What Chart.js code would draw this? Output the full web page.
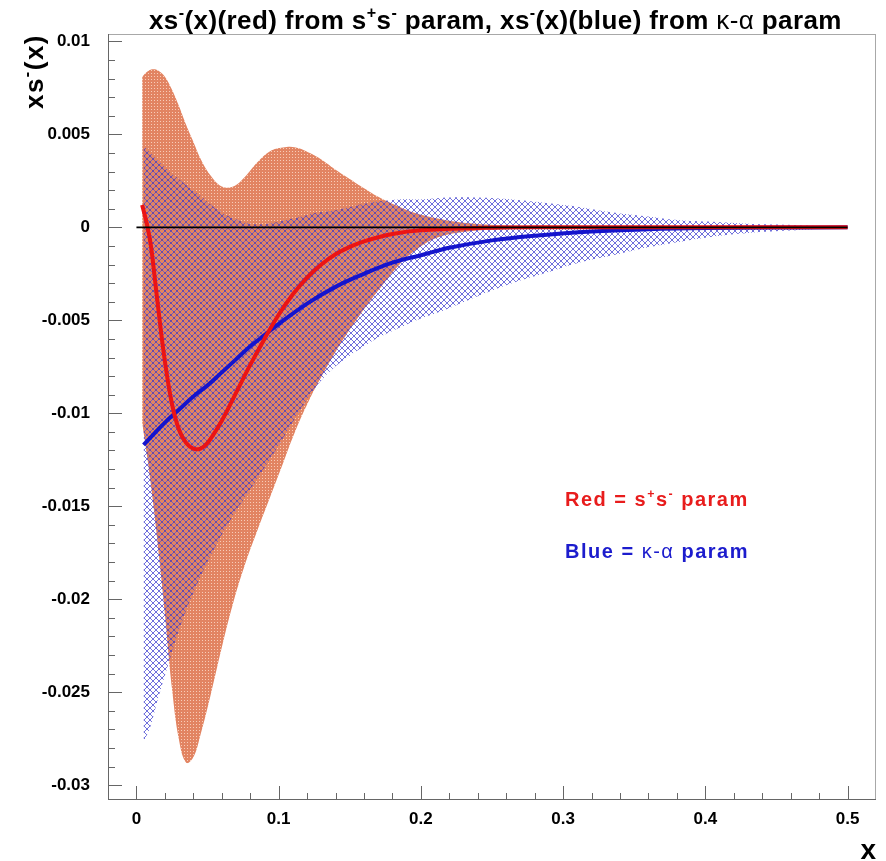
<!DOCTYPE html>
<html>
<head>
<meta charset="utf-8">
<script src="https://cdn.jsdelivr.net/npm/chart.js@4.4.1/dist/chart.umd.min.js"></script>
<style>
  html, body { margin: 0; padding: 0; background: #fff; }
  #chart { display: block; }
</style>
</head>
<body>
<canvas id="chart" width="886" height="861"></canvas>
<script>
// xs^-(x) from the s+s- fit (red) and from the kappa-alpha fit (blue)
const redX = [0.004, 0.007, 0.010, 0.013, 0.016, 0.020, 0.025, 0.030, 0.035, 0.040, 0.045, 0.050, 0.060,
  0.070, 0.080, 0.090, 0.100, 0.110, 0.120, 0.130, 0.140, 0.150, 0.160, 0.180, 0.200, 0.250, 0.300, 0.400, 0.500];
const redY = [0.0012, 0.0003, -0.0009, -0.0028, -0.0048, -0.0072, -0.0095, -0.0109, -0.0116, -0.0119, -0.0119, -0.0116, -0.0104,
  -0.0089, -0.0074, -0.0060, -0.0047, -0.0036, -0.0027, -0.0020, -0.00145, -0.00105, -0.00075, -0.00036, -0.00016, -0.00002, 0, 0, 0];

const redBandX = [0.004, 0.008, 0.012, 0.016, 0.020, 0.025, 0.030, 0.035, 0.040, 0.045, 0.052, 0.060, 0.068, 0.076, 0.085,
  0.094, 0.103, 0.112, 0.122, 0.131, 0.140, 0.150, 0.160, 0.171, 0.185, 0.195, 0.210, 0.230, 0.260, 0.300, 0.360, 0.420, 0.500];
const redBandHigh = [0.0081, 0.0084, 0.0085, 0.0084, 0.0081, 0.0074, 0.0065, 0.0055, 0.0046, 0.0037, 0.0028, 0.0022, 0.0022, 0.0027, 0.0035,
  0.0041, 0.0043, 0.0043, 0.0040, 0.0036, 0.0031, 0.0026, 0.0021, 0.0016, 0.0011, 0.0008, 0.0005, 0.00025, 0.0001, 0.00005, 0.00002, 0.00001, 0];
const redBandLow = [-0.0105, -0.0126, -0.0150, -0.0178, -0.0208, -0.0248, -0.0276, -0.0288, -0.0285, -0.0273, -0.0252, -0.0226, -0.0202, -0.0182, -0.0163,
  -0.0145, -0.0127, -0.0109, -0.0092, -0.0079, -0.0067, -0.0055, -0.0044, -0.0033, -0.0020, -0.0013, -0.0006, -0.00025, -0.0001, -0.00004, -0.00002, -0.00001, 0];

const blueX = [0.005, 0.010, 0.020, 0.030, 0.040, 0.050, 0.060, 0.070, 0.080, 0.090, 0.100, 0.120, 0.140, 0.160, 0.180,
  0.200, 0.220, 0.250, 0.280, 0.320, 0.360, 0.400, 0.450, 0.500];
const blueY = [-0.0117, -0.0113, -0.0105, -0.0098, -0.0091, -0.0085, -0.0078, -0.0071, -0.0064, -0.0058, -0.0052, -0.0041, -0.0032, -0.0025, -0.0019,
  -0.0015, -0.0011, -0.0007, -0.00045, -0.00022, -0.0001, -0.00004, -0.00001, 0];

const blueBandX = [0.005, 0.010, 0.015, 0.022, 0.033, 0.045, 0.056, 0.068, 0.080, 0.092, 0.105, 0.117, 0.127, 0.138, 0.150, 0.162,
  0.171, 0.185, 0.200, 0.218, 0.240, 0.264, 0.290, 0.311, 0.335, 0.358, 0.380, 0.405, 0.430, 0.452, 0.475, 0.500];
const blueBandHigh = [0.0044, 0.0040, 0.0036, 0.0031, 0.0024, 0.0017, 0.0010, 0.0005, 0.0002, 0.0002, 0.0004, 0.0006, 0.0008, 0.0009, 0.0011, 0.0013,
  0.0014, 0.0015, 0.0015, 0.0016, 0.0016, 0.0015, 0.0013, 0.0011, 0.0008, 0.0006, 0.0004, 0.0003, 0.0002, 0.00015, 0.00008, 0];
const blueBandLow = [-0.0277, -0.0268, -0.0254, -0.0236, -0.0210, -0.0188, -0.0171, -0.0155, -0.0141, -0.0127, -0.0111, -0.0096, -0.0085, -0.0076, -0.0069, -0.0063,
  -0.0059, -0.0054, -0.0049, -0.0044, -0.0037, -0.0030, -0.0024, -0.0019, -0.0015, -0.0011, -0.0008, -0.0005, -0.0003, -0.0002, -0.0001, 0];

const zeroX = [0, 0.5];
const zeroY = [0, 0];

const xTicks = [0, 0.1, 0.2, 0.3, 0.4, 0.5];
const xTickLabels = ['0', '0.1', '0.2', '0.3', '0.4', '0.5'];
const yTicks = [0.01, 0.005, 0, -0.005, -0.01, -0.015, -0.02, -0.025, -0.03];
const yTickLabels = ['0.01', '0.005', '0', '-0.005', '-0.01', '-0.015', '-0.02', '-0.025', '-0.03'];

const BOLD = "'Liberation Sans', Arial, sans-serif";

const pts = (xs, ys) => xs.map((x, i) => ({ x: x, y: ys[i] }));

// fill textures: fine dotted salmon and a diagonal blue cross-hatch
function dotPattern() {
  const c = document.createElement('canvas');
  c.width = 3; c.height = 3;
  const g = c.getContext('2d');
  g.fillStyle = 'rgb(226,132,98)';
  g.fillRect(0, 0, 3, 3);
  g.fillStyle = 'rgb(248,204,184)';
  g.fillRect(1, 1, 1, 1);
  return g.createPattern(c, 'repeat');
}

function hatchPattern() {
  const c = document.createElement('canvas');
  c.width = 6; c.height = 6;
  const g = c.getContext('2d');
  g.strokeStyle = 'rgba(50,50,205,0.78)';
  g.lineWidth = 0.9;
  g.beginPath();
  g.moveTo(-1, -1); g.lineTo(7, 7);
  g.moveTo(-1, 7); g.lineTo(7, -1);
  g.stroke();
  return g.createPattern(c, 'repeat');
}

// draws a run of text pieces, some raised as superscripts
function richText(ctx, parts, x, y, size, family, spacing) {
  let cx = x;
  parts.forEach(p => {
    const s = p.sup ? size * 0.62 : size;
    ctx.font = (p.light ? '' : 'bold ') + s + 'px ' + family;
    ctx.letterSpacing = spacing + 'px';
    ctx.fillText(p.t, cx, p.sup ? y - size * 0.42 : y);
    cx += ctx.measureText(p.t).width;
  });
  return cx - x;
}

function richWidth(ctx, parts, size, family, spacing) {
  let w = 0;
  parts.forEach(p => {
    const s = p.sup ? size * 0.62 : size;
    ctx.font = (p.light ? '' : 'bold ') + s + 'px ' + family;
    ctx.letterSpacing = spacing + 'px';
    w += ctx.measureText(p.t).width;
  });
  return w;
}

const titleParts = [
  { t: 'xs' }, { t: '-', sup: true }, { t: '(x)(red) from s' }, { t: '+', sup: true }, { t: 's' }, { t: '-', sup: true },
  { t: ' param, xs' }, { t: '-', sup: true }, { t: '(x)(blue) from ' }, { t: 'κ-α', light: true }, { t: ' param' }
];
const yTitleParts = [{ t: 'xs' }, { t: '-', sup: true }, { t: '(x)' }];
const redNote = [{ t: 'Red = s' }, { t: '+', sup: true }, { t: 's' }, { t: '-', sup: true }, { t: ' param' }];
const blueNote = [{ t: 'Blue = ' }, { t: 'κ-α', light: true }, { t: ' param' }];

const decor = {
  id: 'decor',
  afterDatasetsDraw(chart) {
    const { ctx, chartArea: a, scales: { x, y } } = chart;
    ctx.save();
    ctx.lineWidth = 1;
    ctx.strokeStyle = '#a8a8a8';
    ctx.strokeRect(a.left + 0.5, a.top + 0.5, a.right - a.left - 1, a.bottom - a.top - 1);
    ctx.strokeStyle = '#666';
    ctx.beginPath();
    ctx.moveTo(a.left + 0.5, a.top); ctx.lineTo(a.left + 0.5, a.bottom);
    ctx.moveTo(a.left, a.bottom - 0.5); ctx.lineTo(a.right, a.bottom - 0.5);
    // x ticks: major every 0.1, minor every 0.02
    for (let i = -1; i <= 25; i++) {
      const v = i * 0.02;
      const px = Math.round(x.getPixelForValue(v)) + 0.5;
      if (px <= a.left + 1 || px >= a.right - 1) continue;
      const len = i % 5 === 0 ? 14 : 7;
      ctx.moveTo(px, a.bottom); ctx.lineTo(px, a.bottom - len);
    }
    // y ticks: major every 0.005, minor every 0.001
    for (let i = -30; i <= 10; i++) {
      const v = i * 0.001;
      const py = Math.round(y.getPixelForValue(v)) + 0.5;
      if (py <= a.top + 1 || py >= a.bottom - 1) continue;
      const len = i % 5 === 0 ? 14 : 7;
      ctx.moveTo(a.left, py); ctx.lineTo(a.left + len, py);
    }
    ctx.stroke();
    ctx.restore();
  },
  afterDraw(chart) {
    const { ctx, chartArea: a } = chart;
    ctx.save();
    ctx.textAlign = 'left';
    ctx.textBaseline = 'alphabetic';
    ctx.fillStyle = '#000';
    richText(ctx, titleParts, 149, 29, 26, BOLD, 0.4);

    // y axis title, rotated, ending at the top of the frame
    const tw = richWidth(ctx, yTitleParts, 26, BOLD, 1.5);
    ctx.save();
    ctx.translate(43, a.top + tw);
    ctx.rotate(-Math.PI / 2);
    richText(ctx, yTitleParts, 0, 0, 26, BOLD, 1.5);
    ctx.restore();

    ctx.font = 'bold 28px ' + BOLD;
    ctx.letterSpacing = '0px';
    ctx.textAlign = 'right';
    ctx.fillText('x', a.right, 859);

    ctx.textAlign = 'left';
    ctx.fillStyle = 'rgb(232,28,28)';
    richText(ctx, redNote, 565, 506, 20, BOLD, 1.5);
    ctx.fillStyle = 'rgb(28,28,205)';
    richText(ctx, blueNote, 565, 558, 20, BOLD, 1.5);
    ctx.restore();
  }
};

const ctx = document.getElementById('chart').getContext('2d');
const dots = dotPattern();
const hatch = hatchPattern();

const line = (label, data, color, width, order) => ({
  label: label, data: data, borderColor: color, borderWidth: width,
  pointRadius: 0, fill: false, tension: 0.4, order: order
});

new Chart(ctx, {
  type: 'line',
  data: {
    datasets: [
      { label: 'red band high', data: pts(redBandX, redBandHigh), borderWidth: 0, pointRadius: 0,
        backgroundColor: dots, fill: '+1', tension: 0.4, order: 10 },
      { label: 'red band low', data: pts(redBandX, redBandLow), borderWidth: 0, pointRadius: 0,
        fill: false, tension: 0.4, order: 9 },
      { label: 'blue band high', data: pts(blueBandX, blueBandHigh), borderWidth: 0, pointRadius: 0,
        backgroundColor: hatch, fill: '+1', tension: 0.4, order: 8 },
      { label: 'blue band low', data: pts(blueBandX, blueBandLow), borderWidth: 0, pointRadius: 0,
        fill: false, tension: 0.4, order: 7 },
      line('blue', pts(blueX, blueY), 'rgb(20,20,205)', 4, 3),
      line('red', pts(redX, redY), 'rgb(235,20,20)', 4, 2),
      line('zero', pts(zeroX, zeroY), '#000', 1.6, 1)
    ]
  },
  options: {
    responsive: false,
    animation: false,
    layout: { padding: { top: 34, right: 10, left: 0, bottom: 0 } },
    plugins: { legend: { display: false }, tooltip: { enabled: false }, title: { display: false } },
    scales: {
      x: {
        type: 'linear', min: -0.02, max: 0.52,
        grid: { display: false, drawTicks: false }, border: { display: false },
        afterBuildTicks: (axis) => { axis.ticks = xTicks.map(v => ({ value: v })); },
        afterFit: (axis) => { axis.height = 61; },
        ticks: {
          padding: 9, color: '#000', maxRotation: 0, autoSkip: false,
          font: { family: BOLD, size: 17, weight: 'bold' },
          callback: (v) => xTickLabels[xTicks.indexOf(v)]
        }
      },
      y: {
        type: 'linear', min: -0.0308, max: 0.0104,
        grid: { display: false, drawTicks: false }, border: { display: false },
        afterBuildTicks: (axis) => { axis.ticks = yTicks.map(v => ({ value: v })); },
        afterFit: (axis) => { axis.width = 108; },
        ticks: {
          padding: 18, color: '#000', autoSkip: false,
          font: { family: BOLD, size: 17, weight: 'bold' },
          callback: (v) => yTickLabels[yTicks.indexOf(v)]
        }
      }
    }
  },
  plugins: [decor]
});
</script>
</body>
</html>
